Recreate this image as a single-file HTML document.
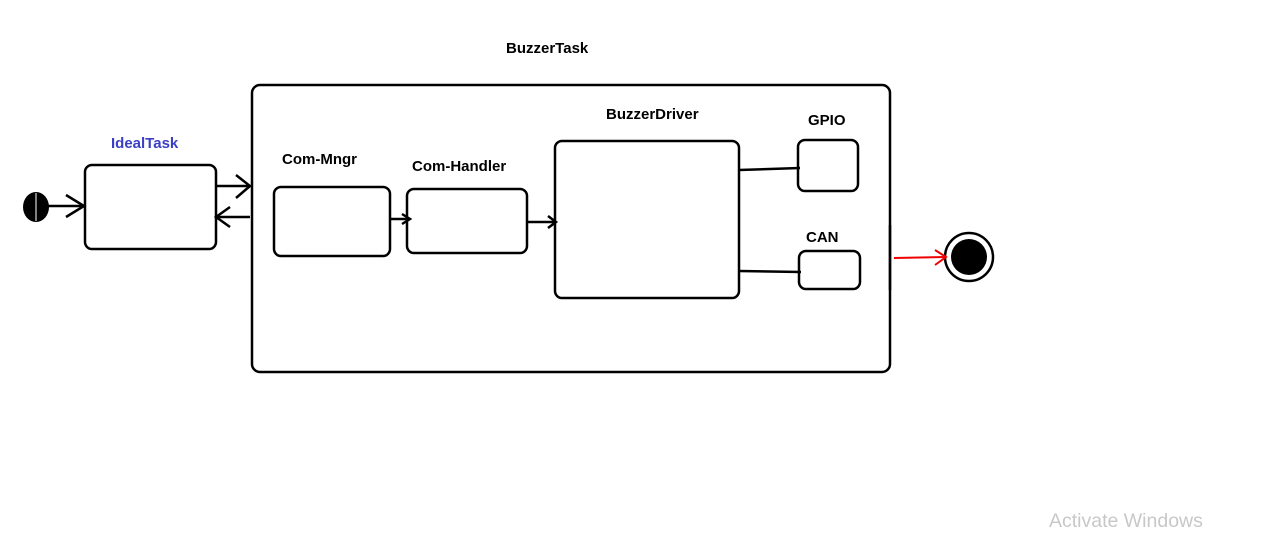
<!DOCTYPE html>
<html><head><style>
html,body{margin:0;padding:0;background:#fff;width:1261px;height:536px;overflow:hidden}
text{font-family:"Liberation Sans",Arial,sans-serif;font-weight:bold;font-size:15px}
</style></head><body>
<svg width="1261" height="536" xmlns="http://www.w3.org/2000/svg">
<g fill="none" stroke="#000" stroke-width="2.5">
<rect x="252" y="85" width="638" height="287" rx="8"/>
<rect x="85" y="165" width="131" height="84" rx="7"/>
<rect x="274" y="187" width="116" height="69" rx="7"/>
<rect x="407" y="189" width="120" height="64" rx="7"/>
<rect x="555" y="141" width="184" height="157" rx="7"/>
<rect x="798" y="140" width="60" height="51" rx="7"/>
<rect x="799" y="251" width="61" height="38" rx="7"/>
<line x1="890" y1="225" x2="890" y2="290"/>
<line x1="45" y1="206" x2="84" y2="206"/>
<polyline points="66,195 84,206 66,217"/>
<line x1="216" y1="186" x2="250" y2="186"/>
<polyline points="236,175 250,186 236,198"/>
<line x1="250" y1="217" x2="216" y2="217"/>
<polyline points="230,207 216,217 230,227"/>
<line x1="390" y1="219" x2="410" y2="219"/>
<polyline points="402,214 410,219 402,224"/>
<line x1="527" y1="222" x2="556" y2="222"/>
<polyline points="548,216 556,222 548,228"/>
<line x1="739" y1="170" x2="800" y2="168"/>
<line x1="739" y1="271" x2="801" y2="272"/>
</g>
<ellipse cx="36" cy="207" rx="13" ry="15" fill="#000"/>
<line x1="36" y1="193" x2="36" y2="221" stroke="#fff" stroke-width="1"/>
<circle cx="969" cy="257" r="24" fill="none" stroke="#000" stroke-width="2.5"/>
<circle cx="969" cy="257" r="18" fill="#000"/>
<g stroke="#e00" stroke-width="2" fill="none">
<line x1="894" y1="258" x2="946" y2="257"/>
<polyline points="935,250 946,257 935,265"/>
</g>
<text x="506" y="53">BuzzerTask</text>
<text x="111" y="148" fill="#3a3fc4">IdealTask</text>
<text x="282" y="164">Com-Mngr</text>
<text x="412" y="171">Com-Handler</text>
<text x="606" y="119">BuzzerDriver</text>
<text x="808" y="125">GPIO</text>
<text x="806" y="242">CAN</text>
<text x="1049" y="527" style="font-weight:normal;font-size:19.5px" fill="#c8c8c8">Activate Windows</text>
</svg>
</body></html>
